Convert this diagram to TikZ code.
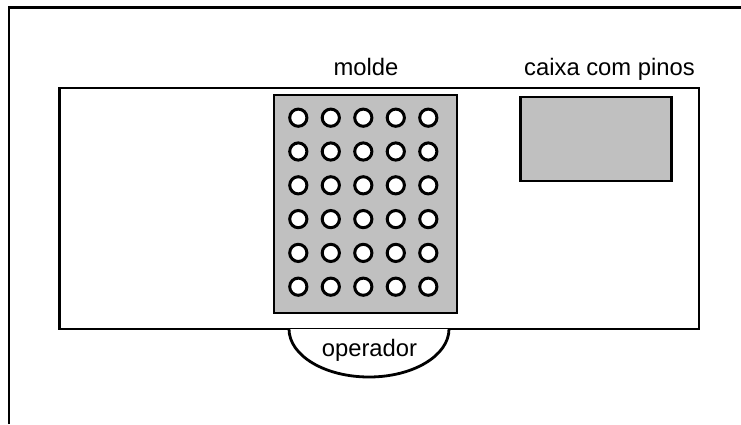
\documentclass[tikz,border=0pt]{standalone}
\usepackage{fontspec}
\setmainfont{Liberation Sans}
\definecolor{stipple}{RGB}{192,192,192}
\begin{document}
\begin{tikzpicture}[x=1pt,y=-1pt,
  frame/.style={line width=2.8pt, draw=black},
  hole/.style={line width=3pt, draw=black, fill=white},
  label/.style={anchor=base, inner sep=0pt, font=\fontsize{23.8}{28}\selectfont}]
  \useasboundingbox (0,0) rectangle (741,424);
  % page border (top and left edges)
  \draw[frame] (9,424) -- (9,7.5) -- (741,7.5);
  % work table
  \draw[frame] (59.5,88) rectangle (699,329);
  % mould plate with its holes
  \draw[frame, fill=stipple] (274,95) rectangle (457,313);
  \foreach \i in {0,...,4}
    \foreach \j in {0,...,5}
      \draw[hole] (298.3+32.5*\i, 117.7+33.8*\j) circle[radius=8.6pt];
  % box holding the pins
  \draw[frame, fill=stipple] (520.5,97) rectangle (671.5,181);
  % operator position
  \draw[frame, fill=white] (289,329) arc[start angle=180, end angle=360, x radius=80pt, y radius=48pt];
  % labels
  \node[label] (molde) at (366,75) {molde};
  \node[label] (caixa) at (609.5,75) {caixa com pinos};
  \node[label] (operador) at (369.5,356) {operador};
\end{tikzpicture}
\end{document}
